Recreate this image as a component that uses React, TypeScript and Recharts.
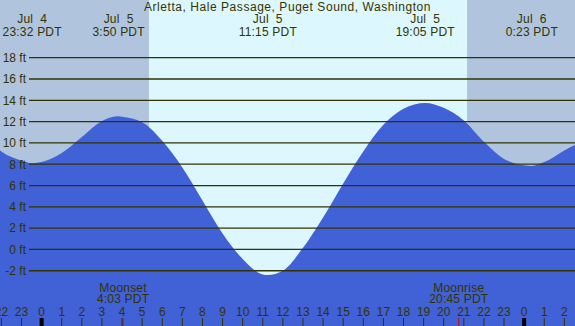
import React from "react";
import {
  ComposedChart,
  Area,
  XAxis,
  YAxis,
  ReferenceArea,
  ReferenceLine,
} from "recharts";

// hours after midnight Jul 5 (PDT), tide height in feet
const hours = [
  -2.07, -2, -1, -0.47, 0, 1, 2, 3, 3.83, 4, 5, 6, 7, 8, 9, 10, 11, 11.25, 12,
  13, 14, 15, 16, 17, 18, 19.08, 20, 21, 22, 23, 24, 24.38, 25, 26, 26.53,
];
const heights = [
  9.3, 9.2, 8.35, 8.1, 8.2, 9.05, 10.55, 12.05, 12.5, 12.45, 11.95, 10.2, 7.7,
  4.6, 1.5, -0.9, -2.35, -2.4, -2.0, 0.15, 3.0, 6.2, 9.2, 11.7, 13.2, 13.75,
  13.3, 12.1, 10.1, 8.5, 7.9, 7.83, 8.2, 9.3, 9.8,
];

const tideTimes = [-0.47, 3.83, 11.25, 19.08, 24.38];
const tideDates = ["Jul  4", "Jul  5", "Jul  5", "Jul  5", "Jul  6"];
const tideClock = ["23:32 PDT", "3:50 PDT", "11:15 PDT", "19:05 PDT", "0:23 PDT"];

const moonTimes = [4.05, 20.75];
const moonNames = ["Moonset", "Moonrise"];
const moonClock = ["4:03 PDT", "20:45 PDT"];

const sunrise = 5.34;
const sunset = 21.16;

const hourTicks = [
  -2, -1, 0, 1, 2, 3, 4, 5, 6, 7, 8, 9, 10, 11, 12, 13, 14, 15, 16, 17, 18, 19,
  20, 21, 22, 23, 24, 25, 26,
];
const ftTicks = [-2, 0, 2, 4, 6, 8, 10, 12, 14, 16, 18];

const xDomain = [-2.07, 26.53];
const yDomain = [-7.19, 23.42];

const data = hours.map((h, i) => ({ h, ft: heights[i] }));

const W = 575;
const H = 326;
const ink = "#333300";
const font = "'Liberation Sans', Arial, sans-serif";

function HourTick(props: any) {
  const { x, payload } = props;
  const v = payload.value;
  const label = ((v % 24) + 24) % 24;
  return (
    <g>
      <text x={x} y={H - 10} textAnchor="middle" fontSize={12} fill={ink} fontFamily={font}>
        {label}
      </text>
      {label === 0 ? (
        <rect x={x - 2} y={H - 8} width={4} height={8} fill="#000" />
      ) : (
        <line x1={x} x2={x} y1={H - 8} y2={H} stroke={ink} />
      )}
    </g>
  );
}

function FtTick(props: any) {
  const { y, payload } = props;
  return (
    <g>
      <text x={26} y={y + 4.3} textAnchor="end" fontSize={12} fill={ink} fontFamily={font}>
        {`${payload.value} ft`}
      </text>
      <line x1={29} x2={W} y1={y} y2={y} stroke={ink} strokeWidth={1.3} />
    </g>
  );
}

function TideLabel(props: any) {
  const { viewBox, date, clock } = props;
  const x = viewBox.x;
  return (
    <g fontSize={12} fill={ink} fontFamily={font} textAnchor="middle" letterSpacing={0.2}>
      <text x={x} y={23} style={{ whiteSpace: "pre" }}>{date}</text>
      <text x={x} y={36}>{clock}</text>
    </g>
  );
}

function MoonLabel(props: any) {
  const { viewBox, name, clock } = props;
  const x = viewBox.x;
  return (
    <g fontSize={12} fill={ink} fontFamily={font} textAnchor="middle" letterSpacing={0.2}>
      <text x={x} y={291.5}>{name}</text>
      <text x={x} y={303}>{clock}</text>
      <line x1={x} x2={x} y1={H - 8} y2={H} stroke="#d00000" />
    </g>
  );
}

export default function App() {
  return (
    <div style={{ position: "absolute", left: 0, top: 0, width: W, height: H }}>
      <ComposedChart
        width={W}
        height={H}
        data={data}
        margin={{ top: 0, right: 0, bottom: -1, left: -1 }}
      >
        <ReferenceArea x1={xDomain[0]} x2={sunrise} fill="#b0c4de" fillOpacity={1} stroke="none" />
        <ReferenceArea x1={sunrise} x2={sunset} fill="#ddf7ff" fillOpacity={1} stroke="none" />
        <ReferenceArea x1={sunset} x2={xDomain[1]} fill="#b0c4de" fillOpacity={1} stroke="none" />
        <Area
          type="monotone"
          dataKey="ft"
          baseValue="dataMin"
          fill="#4161d6"
          fillOpacity={1}
          stroke="none"
          dot={false}
          activeDot={false}
          isAnimationActive={false}
        />
        <XAxis
          type="number"
          dataKey="h"
          domain={xDomain}
          allowDataOverflow
          ticks={hourTicks}
          height={1}
          tickSize={0}
          tickMargin={0}
          tickLine={false}
          axisLine={false}
          interval={0}
          tick={<HourTick />}
        />
        <YAxis
          type="number"
          domain={yDomain}
          allowDataOverflow
          ticks={ftTicks}
          width={1}
          tickSize={0}
          tickMargin={0}
          tickLine={false}
          axisLine={false}
          interval={0}
          tick={<FtTick />}
        />
        {tideTimes.map((t, i) => (
          <ReferenceLine
            key={`tide-${i}`}
            x={t}
            stroke="none"
            label={<TideLabel date={tideDates[i]} clock={tideClock[i]} />}
          />
        ))}
        {moonTimes.map((t, i) => (
          <ReferenceLine
            key={`moon-${i}`}
            x={t}
            stroke="none"
            label={<MoonLabel name={moonNames[i]} clock={moonClock[i]} />}
          />
        ))}
      </ComposedChart>
      <div
        style={{
          position: "absolute",
          left: 0,
          top: 0,
          width: W,
          textAlign: "center",
          fontFamily: font,
          fontSize: 12,
          letterSpacing: "0.55px",
          lineHeight: "14px",
          color: ink,
          pointerEvents: "none",
        }}
      >
        Arletta, Hale Passage, Puget Sound, Washington
      </div>
    </div>
  );
}
